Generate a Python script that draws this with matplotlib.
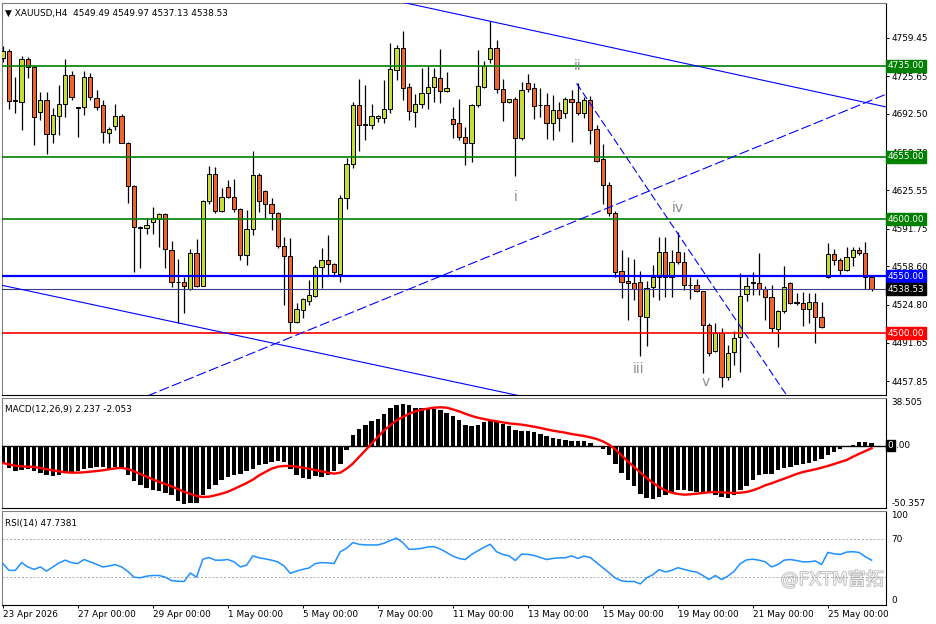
import matplotlib.pyplot as plt
import matplotlib.transforms as mtrans
import matplotlib.patheffects as pe
import numpy as np

# ---- data ----
date_labels = ["23 Apr 2026", "27 Apr 00:00", "29 Apr 00:00", "1 May 00:00", "5 May 00:00",
               "7 May 00:00", "11 May 00:00", "13 May 00:00", "15 May 00:00", "19 May 00:00",
               "21 May 00:00", "25 May 00:00"]
date_pos = [0, 12, 24, 36, 48, 60, 72, 84, 96, 108, 120, 132]

opens = [4741.6, 4748.0, 4705.0, 4703.3, 4740.5, 4733.5, 4694.5, 4704.7, 4674.9, 4690.9,
         4701.0, 4726.7, 4698.3, 4698.3, 4725.2, 4706.8, 4700.4, 4676.0, 4681.9, 4690.9,
         4667.2, 4629.2, 4593.0, 4592.0, 4597.8, 4600.0, 4604.6, 4573.0, 4545.0, 4545.1,
         4538.7, 4570.1, 4541.6, 4616.0, 4639.5, 4607.5, 4628.6, 4619.8, 4608.7, 4568.6,
         4591.2, 4638.6, 4625.0, 4613.4, 4605.2, 4576.5, 4567.7, 4510.0, 4520.3, 4528.4,
         4532.6, 4557.8, 4564.2, 4560.7, 4551.6, 4618.4, 4648.5, 4700.4, 4683.0, 4682.8,
         4689.2, 4688.7, 4696.6, 4731.1, 4750.7, 4715.9, 4694.5, 4701.0, 4711.2, 4715.9,
         4723.8, 4712.6, 4688.2, 4684.3, 4672.5, 4667.2, 4700.1, 4716.4, 4740.8, 4750.2,
         4714.2, 4703.3, 4705.4, 4671.1, 4720.0, 4715.0, 4700.4, 4700.4, 4684.3, 4696.0,
         4693.1, 4705.4, 4702.7, 4693.1, 4704.7, 4679.0, 4653.2, 4630.1, 4605.7, 4554.5,
         4546.0, 4543.7, 4545.1, 4514.4, 4540.2, 4549.0, 4571.0, 4549.5, 4571.0, 4562.2,
         4542.2, 4542.2, 4536.9, 4507.1, 4484.2, 4500.3, 4461.7, 4483.1, 4496.3, 4534.0,
         4544.3, 4544.3, 4538.4, 4532.0, 4503.3, 4519.4, 4543.7, 4526.7, 4526.2, 4520.9,
         4527.6, 4514.4, 4549.5, 4569.2, 4564.3, 4555.4, 4567.1, 4573.0, 4570.6, 4549.49]
highs = [4752.0, 4750.0, 4725.0, 4743.4, 4742.8, 4734.5, 4712.0, 4711.5, 4697.5, 4717.9,
         4740.5, 4730.5, 4699.0, 4730.5, 4728.2, 4713.5, 4704.7, 4681.0, 4701.2, 4692.5,
         4668.0, 4630.0, 4594.0, 4601.0, 4610.7, 4605.5, 4605.5, 4580.9, 4564.8, 4549.5,
         4573.8, 4582.4, 4617.0, 4647.0, 4646.2, 4627.2, 4634.5, 4635.3, 4609.5, 4608.0,
         4660.2, 4640.6, 4625.7, 4618.4, 4606.0, 4584.1, 4583.3, 4526.2, 4530.5, 4546.6,
         4559.8, 4574.5, 4586.2, 4562.0, 4621.3, 4653.5, 4703.3, 4723.2, 4717.9, 4701.0,
         4691.5, 4722.3, 4754.6, 4753.1, 4765.4, 4720.0, 4709.8, 4732.6, 4734.9, 4732.6,
         4749.3, 4729.6, 4698.9, 4705.4, 4681.3, 4701.0, 4748.7, 4739.0, 4774.2, 4757.5,
         4722.9, 4706.0, 4707.6, 4720.8, 4727.6, 4720.0, 4715.6, 4710.6, 4709.1, 4703.3,
         4707.1, 4713.5, 4719.4, 4707.6, 4708.3, 4682.8, 4666.1, 4632.7, 4607.2, 4573.0,
         4567.1, 4564.8, 4554.5, 4545.7, 4559.8, 4584.7, 4584.7, 4573.0, 4588.5, 4571.5,
         4549.5, 4547.5, 4537.2, 4508.6, 4508.6, 4504.7, 4489.5, 4501.8, 4552.5, 4549.5,
         4553.9, 4570.6, 4541.6, 4542.2, 4520.3, 4558.9, 4545.1, 4535.5, 4536.3, 4534.9,
         4534.9, 4527.6, 4579.4, 4573.6, 4565.7, 4575.9, 4575.9, 4575.9, 4580.3, 4549.97]
lows = [4738.0, 4697.0, 4693.3, 4678.4, 4724.0, 4665.2, 4687.2, 4657.3, 4666.7, 4674.0,
        4690.1, 4704.7, 4672.3, 4691.6, 4704.7, 4696.0, 4667.0, 4667.2, 4678.4, 4667.0,
        4614.3, 4553.9, 4557.2, 4587.0, 4587.0, 4575.6, 4557.2, 4540.7, 4509.1, 4517.4,
        4538.0, 4540.7, 4541.0, 4613.4, 4605.7, 4606.6, 4618.4, 4606.6, 4564.2, 4559.8,
        4586.2, 4606.6, 4600.8, 4590.5, 4574.5, 4524.7, 4499.8, 4509.1, 4513.0, 4524.7,
        4532.0, 4539.3, 4551.0, 4551.0, 4545.1, 4608.7, 4644.7, 4660.2, 4669.6, 4679.0,
        4685.7, 4684.8, 4693.6, 4722.3, 4704.7, 4687.2, 4681.3, 4697.5, 4696.8, 4703.3,
        4701.9, 4712.0, 4671.1, 4669.6, 4647.6, 4650.0, 4699.0, 4715.6, 4737.5, 4710.6,
        4686.6, 4702.0, 4638.0, 4670.0, 4712.0, 4687.8, 4690.1, 4670.2, 4669.6, 4677.8,
        4688.7, 4668.1, 4691.6, 4688.7, 4666.1, 4650.5, 4613.4, 4602.8, 4549.0, 4530.5,
        4511.5, 4529.0, 4479.9, 4488.6, 4532.0, 4529.0, 4531.4, 4532.0, 4560.7, 4537.9,
        4529.6, 4536.3, 4464.7, 4479.9, 4483.6, 4452.9, 4458.8, 4471.9, 4466.1, 4528.4,
        4533.4, 4533.4, 4511.5, 4501.2, 4488.0, 4517.4, 4525.5, 4524.7, 4506.2, 4508.6,
        4491.0, 4504.5, 4548.1, 4560.0, 4551.0, 4554.5, 4559.2, 4568.6, 4538.4, 4537.13]
closes = [4747.8, 4704.0, 4704.2, 4740.5, 4733.5, 4690.0, 4704.7, 4674.9, 4691.6, 4701.0,
          4726.7, 4707.6, 4698.0, 4725.2, 4707.1, 4698.9, 4676.9, 4679.0, 4690.9, 4667.2,
          4629.2, 4592.9, 4592.6, 4595.0, 4601.0, 4604.6, 4573.6, 4544.6, 4544.6, 4541.6,
          4570.1, 4541.3, 4616.3, 4639.5, 4607.5, 4619.8, 4619.8, 4609.0, 4568.6, 4591.2,
          4638.6, 4616.0, 4613.4, 4605.2, 4576.5, 4568.0, 4510.0, 4520.9, 4529.7, 4533.4,
          4558.3, 4564.2, 4560.7, 4553.9, 4618.4, 4648.3, 4700.4, 4682.8, 4683.4, 4691.0,
          4690.7, 4696.6, 4731.7, 4750.7, 4715.0, 4695.1, 4701.0, 4711.2, 4715.9, 4724.7,
          4712.7, 4715.0, 4683.4, 4672.5, 4667.2, 4700.1, 4717.0, 4734.9, 4750.2, 4714.2,
          4703.3, 4705.4, 4671.1, 4713.5, 4714.2, 4699.5, 4700.2, 4684.3, 4696.0, 4688.7,
          4705.6, 4703.3, 4693.1, 4704.7, 4678.4, 4651.4, 4630.1, 4605.2, 4553.9, 4545.1,
          4543.7, 4538.4, 4515.3, 4539.9, 4549.0, 4571.0, 4549.5, 4562.7, 4562.7, 4542.2,
          4542.0, 4536.9, 4507.1, 4482.2, 4499.8, 4461.7, 4482.8, 4495.4, 4532.8, 4541.6,
          4544.1, 4538.4, 4532.0, 4504.2, 4519.4, 4540.7, 4526.7, 4526.5, 4520.9, 4527.0,
          4514.4, 4505.6, 4569.2, 4564.3, 4555.4, 4567.1, 4573.0, 4570.6, 4549.0, 4538.53]

macd_main = [-14.5, -18.0, -20.7, -19.9, -19.1, -20.7, -21.8, -24.0, -24.5, -24.0,
             -21.8, -21.3, -20.7, -19.1, -18.0, -17.2, -17.2, -18.6, -17.2, -18.0,
             -23.4, -28.8, -31.5, -34.2, -36.1, -36.9, -38.0, -40.1, -45.0, -46.8,
             -46.0, -46.0, -40.1, -34.7, -31.5, -28.0, -25.3, -23.4, -22.6, -20.7,
             -18.6, -15.9, -14.5, -13.2, -12.7, -13.2, -19.1, -24.0, -26.1, -26.7,
             -24.5, -25.3, -23.4, -20.7, -14.5, -3.8, 8.3, 13.7, 17.0, 19.7,
             21.8, 25.8, 30.4, 32.6, 33.4, 32.6, 30.7, 30.4, 30.4, 29.9,
             28.5, 26.7, 24.0, 20.5, 16.4, 15.9, 17.0, 19.1, 19.7, 19.1,
             17.8, 15.9, 12.4, 11.6, 11.6, 11.0, 9.7, 7.8, 6.2, 5.1,
             4.3, 4.0, 3.8, 3.5, 2.4, -0.3, -3.0, -7.3, -14.5, -21.8,
             -28.0, -32.6, -38.8, -42.3, -42.8, -41.5, -40.1, -37.4, -36.1, -36.1,
             -36.9, -37.4, -37.4, -38.2, -39.6, -41.5, -42.3, -40.1, -36.1, -32.6,
             -28.0, -24.0, -22.6, -22.6, -19.9, -18.0, -17.2, -15.9, -15.1, -14.0,
             -12.7, -10.5, -7.8, -5.1, -2.4, -1.1, 0.8, 3.0, 2.8, 2.237]
macd_signal = [-14.0, -15.1, -16.2, -16.7, -17.0, -17.2, -18.0, -19.1, -19.9, -20.7,
               -21.5, -21.8, -21.8, -21.5, -21.0, -20.5, -19.9, -19.1, -18.3, -18.0,
               -18.8, -20.7, -22.9, -25.0, -27.2, -29.3, -31.0, -32.8, -35.0, -37.2,
               -39.0, -40.7, -41.5, -41.2, -40.1, -38.8, -37.2, -35.0, -32.6, -30.2,
               -27.5, -24.0, -21.3, -18.6, -17.0, -16.4, -16.4, -17.0, -17.8, -18.6,
               -19.7, -20.7, -21.8, -22.6, -21.8, -18.6, -14.5, -9.2, -3.8, 1.6,
               7.0, 12.4, 16.4, 20.5, 23.2, 25.8, 27.7, 29.1, 29.9, 30.7,
               31.0, 30.7, 29.3, 27.7, 25.8, 24.0, 22.6, 21.5, 20.5, 19.7,
               18.8, 18.0, 17.5, 17.0, 16.2, 15.3, 14.3, 13.2, 12.1, 11.3,
               10.5, 9.4, 8.6, 7.8, 6.7, 5.4, 3.5, 0.8, -3.0, -7.8,
               -12.7, -17.2, -21.8, -26.1, -29.9, -33.4, -36.1, -38.0, -39.0, -39.6,
               -39.3, -38.8, -38.2, -37.7, -37.4, -37.7, -38.0, -38.2, -38.0, -37.4,
               -36.1, -34.2, -32.0, -30.4, -28.5, -26.7, -24.8, -22.9, -21.3, -20.2,
               -19.1, -17.8, -16.4, -14.8, -13.2, -11.6, -9.0, -6.6, -4.4, -2.053]
rsi_vals = [44.1, 36.8, 36.8, 45.1, 40.5, 37.9, 40.5, 36.1, 40.5, 44.8,
            47.7, 45.1, 44.1, 48.4, 45.9, 43.3, 40.5, 41.5, 43.0, 40.5,
            35.8, 29.6, 28.9, 30.7, 31.4, 31.4, 29.6, 26.0, 25.3, 25.0,
            34.0, 29.6, 48.7, 50.5, 47.7, 47.7, 48.4, 45.9, 40.5, 42.3,
            52.3, 50.2, 49.1, 47.7, 45.9, 41.5, 33.6, 36.1, 37.9, 39.4,
            44.1, 45.1, 44.8, 44.1, 56.7, 60.3, 66.4, 64.6, 63.9, 63.9,
            63.9, 65.7, 68.6, 71.1, 66.4, 59.2, 59.5, 60.3, 61.7, 62.1,
            59.5, 55.9, 52.0, 49.5, 48.4, 53.8, 57.7, 61.4, 64.6, 56.7,
            53.8, 52.3, 47.3, 54.1, 53.8, 52.7, 50.5, 48.4, 49.5, 50.2,
            50.2, 52.3, 49.5, 52.0, 50.5, 45.1, 39.7, 34.3, 28.6, 25.7,
            25.0, 25.0, 22.4, 28.9, 32.2, 37.6, 35.1, 36.8, 39.7, 37.9,
            36.1, 35.1, 31.4, 27.1, 31.4, 27.1, 30.7, 35.8, 44.1, 48.0,
            48.7, 47.7, 45.9, 40.5, 43.0, 47.7, 48.4, 47.3, 45.9, 45.9,
            46.9, 43.0, 55.9, 54.5, 53.8, 56.3, 56.7, 55.9, 51.3, 47.7381]

level_prices = [4735.0, 4655.0, 4600.0, 4550.0, 4500.0]
level_colors = ["#008000", "#008000", "#008000", "#0000FF", "#FF0000"]
price_ticks = [4759.45, 4725.65, 4692.50, 4658.70, 4625.55, 4591.75, 4558.60, 4524.80, 4491.65, 4457.85]

# trend lines as (bar, price) pairs
channel_top = [(63.8, 4790.8), (141.4, 4698.6)]
channel_bottom = [(-0.3, 4542.2), (82.6, 4445.0)]
rising_dash = [(23.1, 4444.7), (141.4, 4710.0)]
falling_dash = [(91.8, 4719.4), (125.5, 4444.7)]

wave_text = ["i", "ii", "iii", "iv", "v"]
wave_bar = [82.0, 91.9, 101.7, 108.0, 112.5]
wave_price = [4619.5, 4734.6, 4468.4, 4609.9, 4457.0]

# ---- layout ----
W, H = 936, 624


def box(l, t, r, b):
    return [l / W, 1 - b / H, (r - l) / W, (b - t) / H]


plt.rcParams['font.family'] = ['DejaVu Sans']
fig = plt.figure(figsize=(W / 100, H / 100), dpi=100)
ax = fig.add_axes(box(2, 3, 886, 395))
axm = fig.add_axes(box(2, 398, 886, 508))
axr = fig.add_axes(box(2, 511, 886, 605))

n = len(closes)
idx = np.arange(n)
o = np.array(opens)
c = np.array(closes)
up = c >= o
bull, bear = "#C8DC38", "#EE642C"
fs = 6.4

# candles
ax.vlines(idx, lows, highs, color="black", lw=0.9, zorder=3)
ax.bar(idx, np.maximum(np.abs(c - o), 0.5), bottom=np.minimum(o, c), width=0.68,
       color=np.where(up, bull, bear), edgecolor="black", linewidth=0.7, zorder=4)

# horizontal levels
for p, col in zip(level_prices, level_colors):
    ax.axhline(p, color=col, lw=1.6 if p == 4550.0 else 1.2, zorder=5)
ax.axhline(closes[-1], color="#3C3C8C", lw=0.8, zorder=5)

# trend lines
for pts, ls in [(channel_top, "-"), (channel_bottom, "-"),
                (rising_dash, (0, (9, 3))), (falling_dash, (0, (7, 3)))]:
    xs, ys = zip(*pts)
    ax.plot(xs, ys, color="#0000FF", lw=0.8, ls=ls, zorder=5)

for t, xb, yp in zip(wave_text, wave_bar, wave_price):
    ax.text(xb, yp, t, color="#8C8C8C", fontsize=10, ha="center", va="center", zorder=6)

ax.set_ylim(4445.6, 4790.0)
ax.yaxis.tick_right()
ax.set_yticks(price_ticks)
ax.set_yticklabels([f"{v:.2f}" for v in price_ticks])
ax.tick_params(axis="y", direction="out", length=2.5, width=0.7, labelsize=fs, pad=1.5)
ax.tick_params(axis="x", length=0, labelbottom=False)

# price labels on the right
tr = mtrans.blended_transform_factory(ax.transAxes, ax.transData)
for p, col in zip(level_prices + [closes[-1]], level_colors + ["black"]):
    ax.text(1.002, p, f"{p:.2f}", transform=tr, color="white", fontsize=fs, ha="left",
            va="center", clip_on=False, zorder=10,
            bbox=dict(boxstyle="square,pad=0.18", fc=col, ec=col))

ax.text(0.003, 0.985, "\u25bc XAUUSD,H4  4549.49 4549.97 4537.13 4538.53", transform=ax.transAxes,
        fontsize=fs, va="top", ha="left", zorder=10)

# MACD
axm.bar(idx, macd_main, width=0.7, color="black", zorder=3)
axm.axhline(0, color="black", lw=1.0, zorder=3)
axm.plot(idx, macd_signal, color="#FF0000", lw=1.7, zorder=4)
axm.set_ylim(-50.357, 38.505)
axm.set_yticks([])
axm.tick_params(axis="x", length=0, labelbottom=False)
axm.text(0.003, 0.94, "MACD(12,26,9) 2.237 -2.053", transform=axm.transAxes, fontsize=fs,
         va="top", ha="left")
trm = mtrans.blended_transform_factory(axm.transAxes, axm.transData)
axm.text(1.006, 38.505, "38.505", transform=trm, fontsize=fs, va="top", ha="left", clip_on=False)
axm.text(1.006, -50.357, "-50.357", transform=trm, fontsize=fs, va="bottom", ha="left", clip_on=False)
axm.text(1.002, 0, "0", transform=trm, fontsize=fs, va="center", ha="left", color="white",
         clip_on=False, bbox=dict(boxstyle="square,pad=0.15", fc="black", ec="black"))
axm.text(1.0115, 0, ".00", transform=trm, fontsize=fs, va="center", ha="left", clip_on=False)

# RSI
axr.plot(idx, rsi_vals, color="#1E90FF", lw=1.1, zorder=3)
for lvl in (70, 30):
    axr.axhline(lvl, color="#A8A8A8", lw=0.7, ls=(0, (2, 2)), zorder=2)
axr.set_ylim(0, 100)
axr.set_yticks([])
axr.text(0.003, 0.92, "RSI(14) 47.7381", transform=axr.transAxes, fontsize=fs, va="top", ha="left")
trr = mtrans.blended_transform_factory(axr.transAxes, axr.transData)
axr.text(1.006, 100, "100", transform=trr, fontsize=fs, va="top", ha="left", clip_on=False)
axr.text(1.006, 70, "70", transform=trr, fontsize=fs, va="center", ha="left", clip_on=False)
axr.text(1.006, 0, "0", transform=trr, fontsize=fs, va="bottom", ha="left", clip_on=False)
axr.text(0.997, 0.27, "@FXTM富拓", transform=axr.transAxes, fontsize=13, ha="right", va="center",
         color="#F2F2F2", family=["DejaVu Sans", "Noto Sans CJK SC"], zorder=1,
         path_effects=[pe.withStroke(linewidth=1.0, foreground="#B4B4B4")])

axr.set_xticks(date_pos)
axr.set_xticklabels(date_labels)
for lbl in axr.get_xticklabels():
    lbl.set_ha("left")
axr.tick_params(axis="x", direction="out", length=2.5, width=0.7, labelsize=fs, pad=1.0)

for a in (ax, axm, axr):
    a.set_xlim(-0.13, 141.31)
    for side in ("top", "left"):
        a.spines[side].set_color("#7F7F7F")
    for side in ("right", "bottom"):
        a.spines[side].set_color("black")
    for s in a.spines.values():
        s.set_linewidth(0.8)

fig.savefig("out.png", dpi=100, facecolor="white")
